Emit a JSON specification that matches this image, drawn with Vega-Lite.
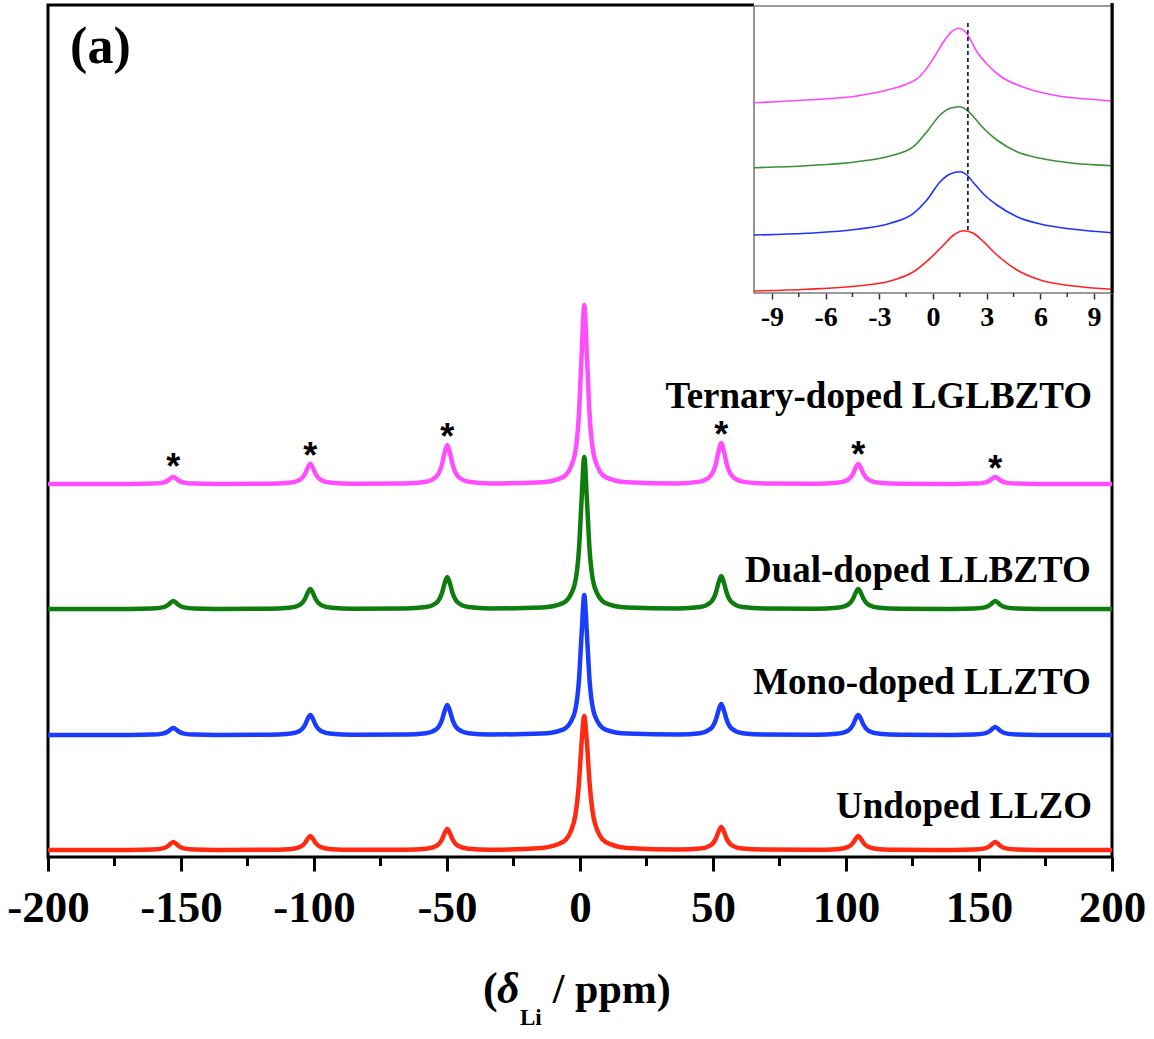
{
  "$schema": "https://vega.github.io/schema/vega-lite/v6.json",
  "width": 1064,
  "height": 852,
  "autosize": {"type": "none"},
  "padding": {"left": 48, "top": 5, "right": 42, "bottom": 182},
  "background": "white",
  "config": {"view": {"stroke": "black", "strokeWidth": 3}, "font": "Liberation Serif"},
  "datasets": {
    "main": [
      {"s":"m","x":-200,"y":373},
      {"s":"m","x":-168.9,"y":373.1},{"s":"m","x":-160.9,"y":373.4},{"s":"m","x":-156.9,"y":374.4},{"s":"m","x":-154.9,"y":376.5},{"s":"m","x":-153.9,"y":378.6},{"s":"m","x":-152.9,"y":380},{"s":"m","x":-151.9,"y":378.6},{"s":"m","x":-150.9,"y":376.5},{"s":"m","x":-148.9,"y":374.4},{"s":"m","x":-144.9,"y":373.4},{"s":"m","x":-136.9,"y":373.1},
      {"s":"m","x":-117.4,"y":373.3},{"s":"m","x":-109.4,"y":374.2},{"s":"m","x":-105.4,"y":377},{"s":"m","x":-103.4,"y":383},{"s":"m","x":-102.4,"y":389},{"s":"m","x":-101.4,"y":393},{"s":"m","x":-100.4,"y":389},{"s":"m","x":-99.4,"y":383},{"s":"m","x":-97.4,"y":377},{"s":"m","x":-93.4,"y":374.2},{"s":"m","x":-85.4,"y":373.3},
      {"s":"m","x":-65.9,"y":373.6},{"s":"m","x":-57.9,"y":375.3},{"s":"m","x":-53.9,"y":380.8},{"s":"m","x":-51.9,"y":392.5},{"s":"m","x":-50.9,"y":404.2},{"s":"m","x":-49.9,"y":412},{"s":"m","x":-48.9,"y":404.2},{"s":"m","x":-47.9,"y":392.5},{"s":"m","x":-45.9,"y":380.8},{"s":"m","x":-41.9,"y":375.3},{"s":"m","x":-33.9,"y":373.6},
      {"s":"m","x":-14.4,"y":374.8},{"s":"m","x":-6.4,"y":379.9},{"s":"m","x":-2.4,"y":397.7},{"s":"m","x":-0.4,"y":442.8},{"s":"m","x":0.6,"y":501.7},{"s":"m","x":1.6,"y":552},{"s":"m","x":2.6,"y":501.7},{"s":"m","x":3.6,"y":442.8},{"s":"m","x":5.6,"y":397.7},{"s":"m","x":9.6,"y":379.9},{"s":"m","x":17.6,"y":374.8},
      {"s":"m","x":37.1,"y":373.6},{"s":"m","x":45.1,"y":375.4},{"s":"m","x":49.1,"y":381.2},{"s":"m","x":51.1,"y":393.5},{"s":"m","x":52.1,"y":405.8},{"s":"m","x":53.1,"y":414},{"s":"m","x":54.1,"y":405.8},{"s":"m","x":55.1,"y":393.5},{"s":"m","x":57.1,"y":381.2},{"s":"m","x":61.1,"y":375.4},{"s":"m","x":69.1,"y":373.6},
      {"s":"m","x":88.6,"y":373.3},{"s":"m","x":96.6,"y":374.2},{"s":"m","x":100.6,"y":377},{"s":"m","x":102.6,"y":383},{"s":"m","x":103.6,"y":389},{"s":"m","x":104.6,"y":393},{"s":"m","x":105.6,"y":389},{"s":"m","x":106.6,"y":383},{"s":"m","x":108.6,"y":377},{"s":"m","x":112.6,"y":374.2},{"s":"m","x":120.6,"y":373.3},
      {"s":"m","x":140.1,"y":373.1},{"s":"m","x":148.1,"y":373.4},{"s":"m","x":152.1,"y":374.4},{"s":"m","x":154.1,"y":376.5},{"s":"m","x":155.1,"y":378.6},{"s":"m","x":156.1,"y":380},{"s":"m","x":157.1,"y":378.6},{"s":"m","x":158.1,"y":376.5},{"s":"m","x":160.1,"y":374.4},{"s":"m","x":164.1,"y":373.4},{"s":"m","x":172.1,"y":373.1},
      {"s":"m","x":200,"y":373},

      {"s":"g","x":-200,"y":248},
      {"s":"g","x":-168.9,"y":248.1},{"s":"g","x":-160.9,"y":248.5},{"s":"g","x":-156.9,"y":249.6},{"s":"g","x":-154.9,"y":252},{"s":"g","x":-153.9,"y":254.4},{"s":"g","x":-152.9,"y":256},{"s":"g","x":-151.9,"y":254.4},{"s":"g","x":-150.9,"y":252},{"s":"g","x":-148.9,"y":249.6},{"s":"g","x":-144.9,"y":248.5},{"s":"g","x":-136.9,"y":248.1},
      {"s":"g","x":-117.4,"y":248.3},{"s":"g","x":-109.4,"y":249.2},{"s":"g","x":-105.4,"y":252},{"s":"g","x":-103.4,"y":258},{"s":"g","x":-102.4,"y":264},{"s":"g","x":-101.4,"y":268},{"s":"g","x":-100.4,"y":264},{"s":"g","x":-99.4,"y":258},{"s":"g","x":-97.4,"y":252},{"s":"g","x":-93.4,"y":249.2},{"s":"g","x":-85.4,"y":248.3},
      {"s":"g","x":-65.9,"y":248.5},{"s":"g","x":-57.9,"y":249.9},{"s":"g","x":-53.9,"y":254.4},{"s":"g","x":-51.9,"y":264},{"s":"g","x":-50.9,"y":273.6},{"s":"g","x":-49.9,"y":280},{"s":"g","x":-48.9,"y":273.6},{"s":"g","x":-47.9,"y":264},{"s":"g","x":-45.9,"y":254.4},{"s":"g","x":-41.9,"y":249.9},{"s":"g","x":-33.9,"y":248.5},
      {"s":"g","x":-14.4,"y":249.5},{"s":"g","x":-6.4,"y":253.9},{"s":"g","x":-2.4,"y":269},{"s":"g","x":-0.4,"y":307.3},{"s":"g","x":0.6,"y":357.3},{"s":"g","x":1.6,"y":400},{"s":"g","x":2.6,"y":357.3},{"s":"g","x":3.6,"y":307.3},{"s":"g","x":5.6,"y":269},{"s":"g","x":9.6,"y":253.9},{"s":"g","x":17.6,"y":249.5},
      {"s":"g","x":37.1,"y":248.5},{"s":"g","x":45.1,"y":249.9},{"s":"g","x":49.1,"y":254.6},{"s":"g","x":51.1,"y":264.5},{"s":"g","x":52.1,"y":274.4},{"s":"g","x":53.1,"y":281},{"s":"g","x":54.1,"y":274.4},{"s":"g","x":55.1,"y":264.5},{"s":"g","x":57.1,"y":254.6},{"s":"g","x":61.1,"y":249.9},{"s":"g","x":69.1,"y":248.5},
      {"s":"g","x":88.6,"y":248.3},{"s":"g","x":96.6,"y":249.2},{"s":"g","x":100.6,"y":252},{"s":"g","x":102.6,"y":258},{"s":"g","x":103.6,"y":264},{"s":"g","x":104.6,"y":268},{"s":"g","x":105.6,"y":264},{"s":"g","x":106.6,"y":258},{"s":"g","x":108.6,"y":252},{"s":"g","x":112.6,"y":249.2},{"s":"g","x":120.6,"y":248.3},
      {"s":"g","x":140.1,"y":248.1},{"s":"g","x":148.1,"y":248.5},{"s":"g","x":152.1,"y":249.6},{"s":"g","x":154.1,"y":252},{"s":"g","x":155.1,"y":254.4},{"s":"g","x":156.1,"y":256},{"s":"g","x":157.1,"y":254.4},{"s":"g","x":158.1,"y":252},{"s":"g","x":160.1,"y":249.6},{"s":"g","x":164.1,"y":248.5},{"s":"g","x":172.1,"y":248.1},
      {"s":"g","x":200,"y":248},

      {"s":"b","x":-200,"y":122},
      {"s":"b","x":-168.9,"y":122.1},{"s":"b","x":-160.9,"y":122.4},{"s":"b","x":-156.9,"y":123.4},{"s":"b","x":-154.9,"y":125.5},{"s":"b","x":-153.9,"y":127.6},{"s":"b","x":-152.9,"y":129},{"s":"b","x":-151.9,"y":127.6},{"s":"b","x":-150.9,"y":125.5},{"s":"b","x":-148.9,"y":123.4},{"s":"b","x":-144.9,"y":122.4},{"s":"b","x":-136.9,"y":122.1},
      {"s":"b","x":-117.4,"y":122.3},{"s":"b","x":-109.4,"y":123.2},{"s":"b","x":-105.4,"y":126},{"s":"b","x":-103.4,"y":132},{"s":"b","x":-102.4,"y":138},{"s":"b","x":-101.4,"y":142},{"s":"b","x":-100.4,"y":138},{"s":"b","x":-99.4,"y":132},{"s":"b","x":-97.4,"y":126},{"s":"b","x":-93.4,"y":123.2},{"s":"b","x":-85.4,"y":122.3},
      {"s":"b","x":-65.9,"y":122.5},{"s":"b","x":-57.9,"y":123.8},{"s":"b","x":-53.9,"y":128},{"s":"b","x":-51.9,"y":137},{"s":"b","x":-50.9,"y":146},{"s":"b","x":-49.9,"y":152},{"s":"b","x":-48.9,"y":146},{"s":"b","x":-47.9,"y":137},{"s":"b","x":-45.9,"y":128},{"s":"b","x":-41.9,"y":123.8},{"s":"b","x":-33.9,"y":122.5},
      {"s":"b","x":-14.4,"y":123.4},{"s":"b","x":-6.4,"y":127.4},{"s":"b","x":-2.4,"y":141.3},{"s":"b","x":-0.4,"y":176.6},{"s":"b","x":0.6,"y":222.7},{"s":"b","x":1.6,"y":262},{"s":"b","x":2.6,"y":222.7},{"s":"b","x":3.6,"y":176.6},{"s":"b","x":5.6,"y":141.3},{"s":"b","x":9.6,"y":127.4},{"s":"b","x":17.6,"y":123.4},
      {"s":"b","x":37.1,"y":122.5},{"s":"b","x":45.1,"y":123.8},{"s":"b","x":49.1,"y":128.2},{"s":"b","x":51.1,"y":137.5},{"s":"b","x":52.1,"y":146.8},{"s":"b","x":53.1,"y":153},{"s":"b","x":54.1,"y":146.8},{"s":"b","x":55.1,"y":137.5},{"s":"b","x":57.1,"y":128.2},{"s":"b","x":61.1,"y":123.8},{"s":"b","x":69.1,"y":122.5},
      {"s":"b","x":88.6,"y":122.3},{"s":"b","x":96.6,"y":123.2},{"s":"b","x":100.6,"y":126},{"s":"b","x":102.6,"y":132},{"s":"b","x":103.6,"y":138},{"s":"b","x":104.6,"y":142},{"s":"b","x":105.6,"y":138},{"s":"b","x":106.6,"y":132},{"s":"b","x":108.6,"y":126},{"s":"b","x":112.6,"y":123.2},{"s":"b","x":120.6,"y":122.3},
      {"s":"b","x":140.1,"y":122.1},{"s":"b","x":148.1,"y":122.5},{"s":"b","x":152.1,"y":123.6},{"s":"b","x":154.1,"y":126},{"s":"b","x":155.1,"y":128.4},{"s":"b","x":156.1,"y":130},{"s":"b","x":157.1,"y":128.4},{"s":"b","x":158.1,"y":126},{"s":"b","x":160.1,"y":123.6},{"s":"b","x":164.1,"y":122.5},{"s":"b","x":172.1,"y":122.1},
      {"s":"b","x":200,"y":122},

      {"s":"r","x":-200,"y":7},
      {"s":"r","x":-168.9,"y":7.1},{"s":"r","x":-160.9,"y":7.5},{"s":"r","x":-156.9,"y":8.6},{"s":"r","x":-154.9,"y":11},{"s":"r","x":-153.9,"y":13.4},{"s":"r","x":-152.9,"y":15},{"s":"r","x":-151.9,"y":13.4},{"s":"r","x":-150.9,"y":11},{"s":"r","x":-148.9,"y":8.6},{"s":"r","x":-144.9,"y":7.5},{"s":"r","x":-136.9,"y":7.1},
      {"s":"r","x":-117.4,"y":7.2},{"s":"r","x":-109.4,"y":7.8},{"s":"r","x":-105.4,"y":9.8},{"s":"r","x":-103.4,"y":14},{"s":"r","x":-102.4,"y":18.2},{"s":"r","x":-101.4,"y":21},{"s":"r","x":-100.4,"y":18.2},{"s":"r","x":-99.4,"y":14},{"s":"r","x":-97.4,"y":9.8},{"s":"r","x":-93.4,"y":7.8},{"s":"r","x":-85.4,"y":7.2},
      {"s":"r","x":-65.9,"y":7.3},{"s":"r","x":-57.9,"y":8.2},{"s":"r","x":-53.9,"y":11.2},{"s":"r","x":-51.9,"y":17.5},{"s":"r","x":-50.9,"y":23.8},{"s":"r","x":-49.9,"y":28},{"s":"r","x":-48.9,"y":23.8},{"s":"r","x":-47.9,"y":17.5},{"s":"r","x":-45.9,"y":11.2},{"s":"r","x":-41.9,"y":8.2},{"s":"r","x":-33.9,"y":7.3},
      {"s":"r","x":-14.4,"y":9.1},{"s":"r","x":-6.4,"y":14.9},{"s":"r","x":-2.4,"y":33.8},{"s":"r","x":-0.4,"y":74},{"s":"r","x":0.6,"y":114.2},{"s":"r","x":1.6,"y":141},{"s":"r","x":2.6,"y":114.2},{"s":"r","x":3.6,"y":74},{"s":"r","x":5.6,"y":33.8},{"s":"r","x":9.6,"y":14.9},{"s":"r","x":17.6,"y":9.1},
      {"s":"r","x":37.1,"y":7.4},{"s":"r","x":45.1,"y":8.4},{"s":"r","x":49.1,"y":11.6},{"s":"r","x":51.1,"y":18.5},{"s":"r","x":52.1,"y":25.4},{"s":"r","x":53.1,"y":30},{"s":"r","x":54.1,"y":25.4},{"s":"r","x":55.1,"y":18.5},{"s":"r","x":57.1,"y":11.6},{"s":"r","x":61.1,"y":8.4},{"s":"r","x":69.1,"y":7.4},
      {"s":"r","x":88.6,"y":7.2},{"s":"r","x":96.6,"y":7.8},{"s":"r","x":100.6,"y":9.8},{"s":"r","x":102.6,"y":14},{"s":"r","x":103.6,"y":18.2},{"s":"r","x":104.6,"y":21},{"s":"r","x":105.6,"y":18.2},{"s":"r","x":106.6,"y":14},{"s":"r","x":108.6,"y":9.8},{"s":"r","x":112.6,"y":7.8},{"s":"r","x":120.6,"y":7.2},
      {"s":"r","x":140.1,"y":7.1},{"s":"r","x":148.1,"y":7.5},{"s":"r","x":152.1,"y":8.6},{"s":"r","x":154.1,"y":11},{"s":"r","x":155.1,"y":13.4},{"s":"r","x":156.1,"y":15},{"s":"r","x":157.1,"y":13.4},{"s":"r","x":158.1,"y":11},{"s":"r","x":160.1,"y":8.6},{"s":"r","x":164.1,"y":7.5},{"s":"r","x":172.1,"y":7.1},
      {"s":"r","x":200,"y":7}
    ],
    "stars": [
      {"x":-152.9,"y":378},{"x":-101.4,"y":389},{"x":-49.9,"y":408},{"x":53.1,"y":410},{"x":104.6,"y":390},{"x":156.1,"y":376}
    ],
    "labels": [
      {"t":"Ternary-doped LGLBZTO","x":192.5,"y":449},
      {"t":"Dual-doped LLBZTO","x":192,"y":275},
      {"t":"Mono-doped LLZTO","x":192,"y":163},
      {"t":"Undoped LLZO","x":192.5,"y":39}
    ],
    "texts": [
      {"t":"(a)","x":-191.7,"y":794,"fs":52},
      {"t":"(","x":-36.5,"y":-146,"fs":44},
      {"t":"Li","x":-22.6,"y":-168,"fs":23},
      {"t":"/ ppm)","x":-10.2,"y":-146,"fs":42}
    ],
    "greek": [
      {"t":"δ","x":-31.2,"y":-146,"fs":44}
    ],
    "minor": [
      {"x":-175,"y":0,"y2":-9},{"x":-125,"y":0,"y2":-9},{"x":-75,"y":0,"y2":-9},{"x":-25,"y":0,"y2":-9},
      {"x":25,"y":0,"y2":-9},{"x":75,"y":0,"y2":-9},{"x":125,"y":0,"y2":-9},{"x":175,"y":0,"y2":-9}
    ],
    "inset": [
      {"s":"m","x":-10,"y":190.3},{"s":"m","x":-7.05,"y":193},{"s":"m","x":-4.25,"y":197},{"s":"m","x":-2.39,"y":203.7},{"s":"m","x":-1.46,"y":209},{"s":"m","x":-0.71,"y":217},{"s":"m","x":0.03,"y":234.7},{"s":"m","x":0.59,"y":251.3},{"s":"m","x":1.05,"y":261.3},{"s":"m","x":1.43,"y":264.7},{"s":"m","x":1.8,"y":261.3},{"s":"m","x":2.08,"y":253.7},{"s":"m","x":2.45,"y":241.3},{"s":"m","x":3.01,"y":229},{"s":"m","x":3.75,"y":217},{"s":"m","x":5.06,"y":205.7},{"s":"m","x":6.92,"y":197.3},{"s":"m","x":8.78,"y":193.7},{"s":"m","x":10,"y":192},
      {"s":"g","x":-10,"y":125.3},{"s":"g","x":-7.05,"y":127.3},{"s":"g","x":-4.25,"y":131.3},{"s":"g","x":-2.39,"y":137},{"s":"g","x":-1.09,"y":146.3},{"s":"g","x":-0.34,"y":161.3},{"s":"g","x":0.4,"y":178},{"s":"g","x":0.96,"y":184.7},{"s":"g","x":1.48,"y":186.3},{"s":"g","x":1.89,"y":183},{"s":"g","x":2.26,"y":176.3},{"s":"g","x":2.82,"y":164.7},{"s":"g","x":3.57,"y":153},{"s":"g","x":4.69,"y":141.3},{"s":"g","x":5.99,"y":134.7},{"s":"g","x":7.85,"y":129.7},{"s":"g","x":10,"y":127.3},
      {"s":"b","x":-10,"y":58},{"s":"b","x":-7.05,"y":59.7},{"s":"b","x":-4.25,"y":63.7},{"s":"b","x":-2.39,"y":69.7},{"s":"b","x":-1.09,"y":79.7},{"s":"b","x":-0.34,"y":93},{"s":"b","x":0.4,"y":111.3},{"s":"b","x":0.96,"y":119},{"s":"b","x":1.52,"y":121.3},{"s":"b","x":1.89,"y":118},{"s":"b","x":2.26,"y":110.3},{"s":"b","x":2.82,"y":99},{"s":"b","x":3.57,"y":88},{"s":"b","x":4.69,"y":76.3},{"s":"b","x":5.99,"y":69},{"s":"b","x":7.85,"y":63.7},{"s":"b","x":10,"y":60.3},
      {"s":"r","x":-10,"y":2},{"s":"r","x":-7.05,"y":3.7},{"s":"r","x":-4.25,"y":7},{"s":"r","x":-2.39,"y":12},{"s":"r","x":-1.09,"y":21.3},{"s":"r","x":-0.16,"y":34.7},{"s":"r","x":0.59,"y":48},{"s":"r","x":1.15,"y":58},{"s":"r","x":1.74,"y":62.3},{"s":"r","x":2.26,"y":59.7},{"s":"r","x":2.82,"y":51.3},{"s":"r","x":3.57,"y":38},{"s":"r","x":4.69,"y":23},{"s":"r","x":5.99,"y":13},{"s":"r","x":7.85,"y":7},{"s":"r","x":10,"y":3.7}
    ],
    "frame": [{"x":-10,"x2":10,"y":0,"y2":287}],
    "cover": [{"x":-10,"x2":10,"y":0,"y2":290}],
    "dash": [{"x":1.95,"y":63,"y2":272}],
    "edge": [{"x":10,"y":0,"y2":290}],
    "iminor": [
      {"x":-7.5,"y":0,"y2":-4},{"x":-4.5,"y":0,"y2":-4},{"x":-1.5,"y":0,"y2":-4},
      {"x":1.5,"y":0,"y2":-4},{"x":4.5,"y":0,"y2":-4},{"x":7.5,"y":0,"y2":-4}
    ]
  },
  "layer": [
    {
      "data": {"name": "main"},
      "mark": {"type": "line", "strokeWidth": 4.5, "interpolate": "monotone"},
      "encoding": {
        "x": {"field": "x", "type": "quantitative",
          "scale": {"domain": [-200, 200], "nice": false, "zero": false},
          "axis": {
            "orient": "bottom",
            "values": [-200,-150,-100,-50,0,50,100,150,200],
            "labelExpr": "'' + datum.value",
            "title": null, "grid": false, "domain": false,
            "tickSize": 14, "tickWidth": 3, "tickColor": "black",
            "labelFont": "Liberation Serif", "labelFontWeight": "bold", "labelFontSize": 45,
            "labelColor": "black", "labelPadding": 14, "labelFlush": false, "labelOverlap": false
          }},
        "y": {"field": "y", "type": "quantitative",
          "scale": {"domain": [0, 852], "nice": false, "zero": false}, "axis": null},
        "color": {"field": "s", "type": "nominal",
          "scale": {"domain": ["m","g","b","r"], "range": ["#FF4DFF","#0E7D0E","#1A3CFF","#FF2A12"]},
          "legend": null}
      }
    },
    {
      "data": {"name": "minor"},
      "mark": {"type": "rule", "color": "black", "strokeWidth": 3},
      "encoding": {
        "x": {"field": "x", "type": "quantitative", "scale": {"domain": [-200, 200], "nice": false, "zero": false}, "axis": null},
        "y": {"field": "y", "type": "quantitative", "scale": {"domain": [0, 852], "nice": false, "zero": false}, "axis": null},
        "y2": {"field": "y2"}
      }
    },
    {
      "data": {"name": "stars"},
      "mark": {"type": "text", "text": "*", "font": "Liberation Sans", "fontWeight": "bold", "fontSize": 36, "align": "center", "baseline": "alphabetic", "color": "black"},
      "encoding": {
        "x": {"field": "x", "type": "quantitative", "scale": {"domain": [-200, 200], "nice": false, "zero": false}, "axis": null},
        "y": {"field": "y", "type": "quantitative", "scale": {"domain": [0, 852], "nice": false, "zero": false}, "axis": null}
      }
    },
    {
      "data": {"name": "labels"},
      "mark": {"type": "text", "font": "Liberation Serif", "fontWeight": "bold", "fontSize": 37, "align": "right", "baseline": "alphabetic", "color": "black"},
      "encoding": {
        "x": {"field": "x", "type": "quantitative", "scale": {"domain": [-200, 200], "nice": false, "zero": false}, "axis": null},
        "y": {"field": "y", "type": "quantitative", "scale": {"domain": [0, 852], "nice": false, "zero": false}, "axis": null},
        "text": {"field": "t"}
      }
    },
    {
      "data": {"name": "texts"},
      "mark": {"type": "text", "font": "Liberation Serif", "fontWeight": "bold", "align": "left", "baseline": "alphabetic", "color": "black"},
      "encoding": {
        "x": {"field": "x", "type": "quantitative", "scale": {"domain": [-200, 200], "nice": false, "zero": false}, "axis": null},
        "y": {"field": "y", "type": "quantitative", "scale": {"domain": [0, 852], "nice": false, "zero": false}, "axis": null},
        "text": {"field": "t"},
        "size": {"field": "fs", "type": "quantitative", "scale": null}
      }
    },
    {
      "data": {"name": "greek"},
      "mark": {"type": "text", "font": "Liberation Serif", "fontWeight": "bold", "fontStyle": "italic", "align": "left", "baseline": "alphabetic", "color": "black"},
      "encoding": {
        "x": {"field": "x", "type": "quantitative", "scale": {"domain": [-200, 200], "nice": false, "zero": false}, "axis": null},
        "y": {"field": "y", "type": "quantitative", "scale": {"domain": [0, 852], "nice": false, "zero": false}, "axis": null},
        "text": {"field": "t"},
        "size": {"field": "fs", "type": "quantitative", "scale": null}
      }
    },
    {
      "data": {"name": "cover"},
      "mark": {"type": "rect", "fill": "white", "strokeWidth": 0},
      "encoding": {
        "x": {"field": "x", "type": "quantitative", "scale": {"domain": [-10, 10], "range": [706, 1064], "nice": false, "zero": false}, "axis": null},
        "x2": {"field": "x2"},
        "y": {"field": "y", "type": "quantitative", "scale": {"domain": [0, 287], "range": [288, 1], "nice": false, "zero": false}, "axis": null},
        "y2": {"field": "y2"}
      }
    },
    {
      "data": {"name": "frame"},
      "mark": {"type": "rect", "fill": null, "fillOpacity": 0, "stroke": "#7a7a7a", "strokeWidth": 1.6},
      "encoding": {
        "x": {"field": "x", "type": "quantitative", "scale": {"domain": [-10, 10], "range": [706, 1064], "nice": false, "zero": false}, "axis": null},
        "x2": {"field": "x2"},
        "y": {"field": "y", "type": "quantitative", "scale": {"domain": [0, 287], "range": [288, 1], "nice": false, "zero": false}, "axis": null},
        "y2": {"field": "y2"}
      }
    },
    {
      "data": {"name": "iminor"},
      "mark": {"type": "rule", "color": "#333333", "strokeWidth": 1.5},
      "encoding": {
        "x": {"field": "x", "type": "quantitative", "scale": {"domain": [-10, 10], "range": [706, 1064], "nice": false, "zero": false}, "axis": null},
        "y": {"field": "y", "type": "quantitative", "scale": {"domain": [0, 287], "range": [288, 1], "nice": false, "zero": false}, "axis": null},
        "y2": {"field": "y2"}
      }
    },
    {
      "data": {"name": "inset"},
      "mark": {"type": "line", "strokeWidth": 1.6, "interpolate": "monotone"},
      "encoding": {
        "x": {"field": "x", "type": "quantitative",
          "scale": {"domain": [-10, 10], "range": [706, 1064], "nice": false, "zero": false},
          "axis": {
            "orient": "bottom", "offset": -564,
            "values": [-9,-6,-3,0,3,6,9],
            "labelExpr": "'' + datum.value",
            "title": null, "grid": false, "domain": false,
            "tickSize": 6, "tickWidth": 1.5, "tickColor": "#333333",
            "labelFont": "Liberation Serif", "labelFontWeight": "bold", "labelFontSize": 28,
            "labelColor": "black", "labelPadding": 4, "labelFlush": false, "labelOverlap": false
          }},
        "y": {"field": "y", "type": "quantitative",
          "scale": {"domain": [0, 287], "range": [288, 1], "nice": false, "zero": false}, "axis": null},
        "color": {"field": "s", "type": "nominal",
          "scale": {"domain": ["m","g","b","r"], "range": ["#FF44FF","#3A8F3A","#2233FF","#FF2222"]},
          "legend": null}
      }
    },
    {
      "data": {"name": "dash"},
      "mark": {"type": "rule", "color": "black", "strokeWidth": 1.5, "strokeDash": [4, 3]},
      "encoding": {
        "x": {"field": "x", "type": "quantitative", "scale": {"domain": [-10, 10], "range": [706, 1064], "nice": false, "zero": false}, "axis": null},
        "y": {"field": "y", "type": "quantitative", "scale": {"domain": [0, 287], "range": [288, 1], "nice": false, "zero": false}, "axis": null},
        "y2": {"field": "y2"}
      }
    },
    {
      "data": {"name": "edge"},
      "mark": {"type": "rule", "color": "black", "strokeWidth": 3},
      "encoding": {
        "x": {"field": "x", "type": "quantitative", "scale": {"domain": [-10, 10], "range": [706, 1064], "nice": false, "zero": false}, "axis": null},
        "y": {"field": "y", "type": "quantitative", "scale": {"domain": [0, 287], "range": [288, 1], "nice": false, "zero": false}, "axis": null},
        "y2": {"field": "y2"}
      }
    }
  ],
  "resolve": {
    "scale": {"x": "independent", "y": "independent", "color": "independent"},
    "axis": {"x": "independent", "y": "independent"}
  }
}
